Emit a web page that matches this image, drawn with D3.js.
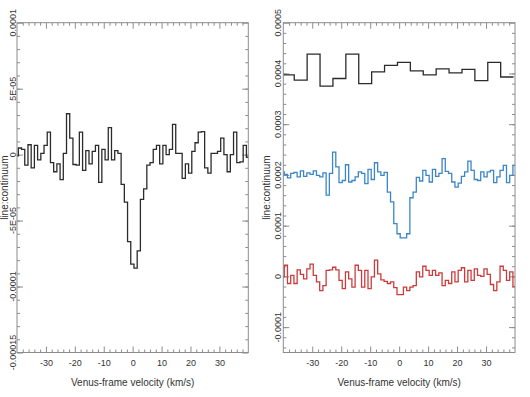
<!DOCTYPE html>
<html><head><meta charset="utf-8">
<script src="https://cdn.jsdelivr.net/npm/d3@7"></script>
<style>html,body{margin:0;padding:0;background:#fff;} svg{display:block;font-family:"Liberation Sans",Arial,sans-serif;}</style>
</head><body><svg id="c" width="530" height="397"></svg>
<script>
// ---------------- data ----------------
const xTicks = [-30, -20, -10, 0, 10, 20, 30];
const xTickLabels = ["-30", "-20", "-10", "0", "10", "20", "30"];
const xTitle = "Venus-frame velocity (km/s)";
const yTitle = "line:continuum";

const leftYTicks = [1e-4, 5e-5, 0, -5e-5, -1e-4, -1.5e-4];
const leftYTickLabels = ["0.0001", "5E-05", "0", "-5E-05", "-0.0001", "-0.00015"];
const rightYTicks = [5e-4, 4e-4, 3e-4, 2e-4, 1e-4, 0, -1e-4];
const rightYTickLabels = ["0.0005", "0.0004", "0.0003", "0.0002", "0.0001", "0", "-0.0001"];

// left panel spectrum (units of 1e-5), regular velocity bins
const leftStart = -40.65, leftBin = 1.111;
const leftValuesE5 = [-0.1, 0.5, 0.4, -0.8, 0.75, -1.0, 0.7, -0.4, 0.1, 0.7, 1.7, -0.6, -1.3, -0.7, -1.9, 0.1,
  3.1, 1.25, -0.75, -0.8, 1.7, -1.2, 0.3, -0.7, 0.25, 0.7, -2.1, 0.4, -0.4, 2.05, -0.4, 0.3, 0.1, -2.25,
  -3.6, -6.6, -8.3, -8.6, -7.3, -3.4, -2.6, -0.8, -0.6, 0.4, 0.7, -0.7, 0.7, 0, 0.4, 2.3, 0.1, 0.1, -1.8,
  -0.7, -1.4, 0.25, 0.9, 1.7, 1.75, -1.0, -1.4, 0.1, 0.1, 0.25, 1.25, 0, -1.3, 0, 1.7, -0.6, -0.55, 0.7, -0.2];

// right panel spectra (units of 1e-4)
const blackStart = -40.68, blackBin = 4.455;
const blackValuesE4 = [3.97, 3.87, 4.38, 3.75, 3.90, 4.38, 3.80, 4.03, 4.16, 4.22, 4.05, 3.97, 4.09, 4.01, 4.08, 3.86, 4.22, 3.93];

const fineStart = -40.78, fineBin = 1.112;
const blueValuesE4 = [2.06, 2.01, 1.94, 2.03, 2.05, 1.96, 2.08, 1.97, 2.04, 2.01, 2.08, 1.99, 1.96, 2.04, 1.60, 2.03,
  2.45, 2.16, 1.85, 1.89, 2.20, 1.86, 1.89, 1.96, 2.06, 2.03, 1.83, 2.11, 1.91, 2.24, 2.06, 1.99, 2.05, 1.66,
  1.47, 1.04, 0.84, 0.76, 0.76, 0.84, 1.55, 1.66, 1.95, 1.88, 2.09, 1.99, 1.86, 2.11, 1.97, 2.03, 2.32, 2.07,
  2.03, 1.86, 1.76, 1.84, 1.97, 2.06, 2.27, 2.09, 1.91, 1.89, 2.06, 1.96, 2.06, 2.09, 1.85, 1.96, 2.09, 2.19,
  1.85, 1.99, 2.19, 1.96];
const redValuesE4 = [-0.01, 0.22, -0.14, 0.02, -0.14, 0.13, 0.04, -0.05, 0.15, 0.24, 0.02, -0.11, -0.28, -0.18,
  0.12, 0.13, 0.18, 0.13, -0.08, -0.24, 0.09, -0.05, -0.21, 0.22, 0.12, -0.21, 0.12, -0.24, -0.01, 0.32, 0.05,
  -0.07, -0.10, -0.14, -0.11, -0.22, -0.36, -0.36, -0.21, -0.28, -0.21, -0.18, 0.09, -0.01, 0.20, 0.12, 0.02,
  0.12, 0.02, 0.07, -0.18, -0.08, -0.14, 0.09, -0.11, 0.12, 0.17, -0.11, 0.12, -0.08, 0.15, 0.02, 0, 0.15, 0.04,
  -0.16, -0.28, -0.11, 0.20, 0.12, -0.08, 0.09, -0.20];

// ---------------- drawing ----------------
const svg = d3.select("#c");
const FRAME = "#8c8c8c", TEXT = "#333";

function stepPoints(start, bin, vals, unit) {
  const pts = vals.map((v, i) => [start + i * bin, v * unit]);
  pts.push([start + vals.length * bin, vals[vals.length - 1] * unit]);
  return pts;
}

function panel(id, box, yDomain, yTicks, yLabels, yMinor, series, tickLabelX, titleX) {
  const x = d3.scaleLinear().domain([-40, 40]).range([box.x0, box.x1]);
  const y = d3.scaleLinear().domain(yDomain).range([box.y1, box.y0]);
  const g = svg.append("g");

  g.append("clipPath").attr("id", "clip" + id).append("rect")
    .attr("x", box.x0).attr("y", box.y0).attr("width", box.x1 - box.x0).attr("height", box.y1 - box.y0);

  const xMinor = d3.range(-38, 39, 2).filter(v => v % 10 !== 0);
  const styleAxis = sel => {
    sel.select(".domain").remove();
    sel.selectAll(".tick line").attr("stroke", FRAME);
  };
  g.append("g").attr("transform", `translate(0,${box.y1})`)
    .call(d3.axisBottom(x).tickValues(xTicks).tickSize(-6).tickPadding(7)
      .tickFormat((d, i) => xTickLabels[i]))
    .call(styleAxis)
    .call(s => s.selectAll("text").attr("fill", TEXT).attr("font-size", 9)
      .attr("font-family", "Liberation Sans, Arial, sans-serif"));
  g.append("g").attr("transform", `translate(0,${box.y1})`)
    .call(d3.axisBottom(x).tickValues(xMinor).tickSize(-3).tickFormat(""))
    .call(styleAxis);
  g.append("g").attr("transform", `translate(0,${box.y0})`)
    .call(d3.axisTop(x).tickValues(xTicks).tickSize(-6).tickFormat("")).call(styleAxis);
  g.append("g").attr("transform", `translate(0,${box.y0})`)
    .call(d3.axisTop(x).tickValues(xMinor).tickSize(-3).tickFormat("")).call(styleAxis);
  g.append("g").attr("transform", `translate(${box.x0},0)`)
    .call(d3.axisLeft(y).tickValues(yTicks).tickSize(-6).tickFormat("")).call(styleAxis);
  g.append("g").attr("transform", `translate(${box.x0},0)`)
    .call(d3.axisLeft(y).tickValues(yMinor).tickSize(-3).tickFormat("")).call(styleAxis);
  g.append("g").attr("transform", `translate(${box.x1},0)`)
    .call(d3.axisRight(y).tickValues(yTicks).tickSize(-6).tickFormat("")).call(styleAxis);
  g.append("g").attr("transform", `translate(${box.x1},0)`)
    .call(d3.axisRight(y).tickValues(yMinor).tickSize(-3).tickFormat("")).call(styleAxis);

  g.selectAll(".ylab").data(yTicks).join("text")
    .attr("x", tickLabelX).attr("y", d => y(d)).attr("dy", "0.35em")
    .attr("transform", d => `rotate(-90,${tickLabelX},${y(d)})`)
    .attr("text-anchor", "middle").attr("font-size", 9).attr("fill", TEXT)
    .text((d, i) => yLabels[i]);

  const line = d3.line().x(d => x(d[0])).y(d => y(d[1])).curve(d3.curveStepAfter);
  series.forEach(s => {
    g.append("path").attr("d", line(s.pts)).attr("fill", "none")
      .attr("stroke", s.color).attr("stroke-width", 1.3)
      .attr("clip-path", `url(#clip${id})`);
  });

  g.append("rect").attr("x", box.x0).attr("y", box.y0)
    .attr("width", box.x1 - box.x0).attr("height", box.y1 - box.y0)
    .attr("fill", "none").attr("stroke", FRAME).attr("stroke-width", 1);

  g.append("text").attr("x", (box.x0 + box.x1) / 2).attr("y", 386)
    .attr("text-anchor", "middle").attr("font-size", 10).attr("fill", TEXT).text(xTitle);
  const ty = (box.y0 + box.y1) / 2;
  g.append("text").attr("x", titleX).attr("y", ty).attr("dy", "0.35em")
    .attr("transform", `rotate(-90,${titleX},${ty})`)
    .attr("text-anchor", "middle").attr("font-size", 10).attr("fill", TEXT).text(yTitle);
}

panel("L", {x0: 17, x1: 248.3, y0: 22.7, y1: 352.5}, [-1.5e-4, 1e-4],
  leftYTicks, leftYTickLabels, d3.range(-14, 10, 1).map(k => k * 1e-5),
  [{pts: stepPoints(leftStart, leftBin, leftValuesE5, 1e-5), color: "#2b2b2b"}], 12.7, 5);

panel("R", {x0: 283.3, x1: 515, y0: 22.7, y1: 352.5}, [-1.5e-4, 5e-4],
  rightYTicks, rightYTickLabels, d3.range(-7, 25, 1).map(k => k * 2e-5),
  [
    {pts: stepPoints(blackStart, blackBin, blackValuesE4, 1e-4), color: "#2b2b2b"},
    {pts: stepPoints(fineStart, fineBin, blueValuesE4, 1e-4), color: "#3a86c8"},
    {pts: stepPoints(fineStart, fineBin, redValuesE4, 1e-4), color: "#cc3b3b"}
  ], 278, 267);
</script></body></html>
